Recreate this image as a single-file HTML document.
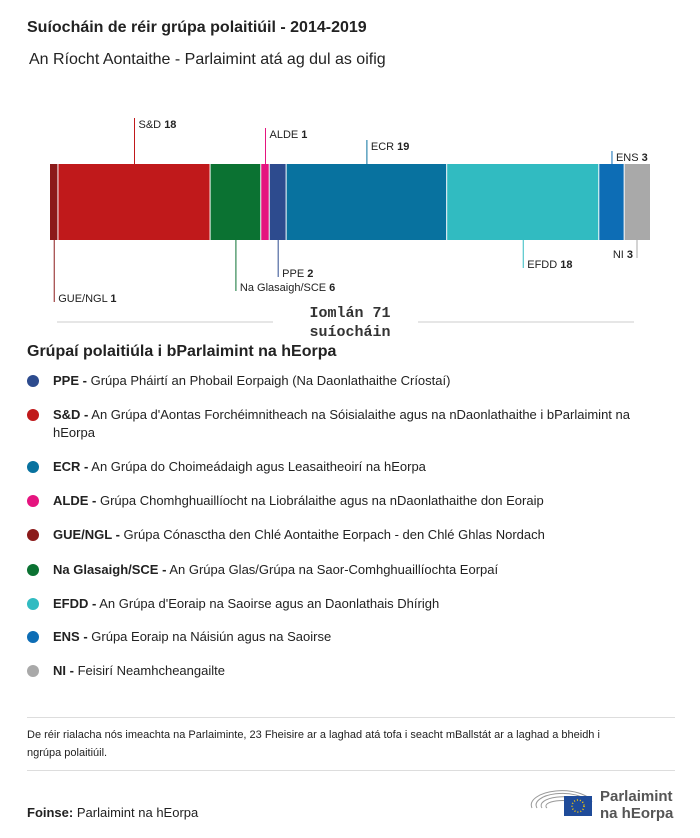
<!DOCTYPE html>
<html><head><meta charset="utf-8"><style>
body{margin:0;width:700px;height:838px;background:#fff;font-family:"Liberation Sans",sans-serif;color:#222;position:relative;overflow:hidden}
.abs{position:absolute}
.leg{position:absolute;left:27px;font-size:13px;line-height:18px;width:640px}
.dot{position:absolute;left:0;top:3px;width:12px;height:12px;border-radius:50%}
.leg span.t{display:block;padding-left:26px}
</style></head><body>
<div class="abs" style="left:27px;top:19px;font-size:16px;font-weight:bold">Suíocháin de réir grúpa polaitiúil - 2014-2019</div>
<div class="abs" style="left:29px;top:51px;font-size:16px">An Ríocht Aontaithe - Parlaimint atá ag dul as oifig</div>
<svg class="abs" style="left:0;top:0" width="700" height="345" id="chart"></svg>
<div class="abs" style="left:27px;top:343px;font-size:16px;font-weight:bold">Grúpaí polaitiúla i bParlaimint na hEorpa</div>
<div id="legend"></div>
<div class="abs" style="left:27px;top:717px;width:648px;height:1px;background:#ddd"></div>
<div class="abs" style="left:27px;top:726px;width:605px;font-size:11px;line-height:18px">De réir rialacha nós imeachta na Parlaiminte, 23 Fheisire ar a laghad atá tofa i seacht mBallstát ar a laghad a bheidh i ngrúpa polaitiúil.</div>
<div class="abs" style="left:27px;top:770px;width:648px;height:1px;background:#ddd"></div>
<div class="abs" style="left:27px;top:805px;font-size:13px"><b>Foinse:</b> Parlaimint na hEorpa</div>
<svg class="abs" style="left:528px;top:782px" width="150" height="40">
<g fill="none" stroke="#999" stroke-width="1"><path d="M4 26 A30 14 0 0 1 64 20"/><path d="M9 26 A25 11 0 0 1 60 20"/><path d="M14 26 A20 8 0 0 1 56 21"/><path d="M19 26 A15 5 0 0 1 50 22"/></g>
<rect x="36" y="14" width="28" height="20" fill="#1f4b99"/><circle cx="50" cy="24" r="6" fill="none" stroke="#fc0" stroke-width="1.5" stroke-dasharray="1 2"/>
<text x="72" y="19" font-size="15" font-weight="bold" fill="#555" font-family="Liberation Sans">Parlaimint</text>
<text x="72" y="36" font-size="15" font-weight="bold" fill="#555" font-family="Liberation Sans">na hEorpa</text></svg>
<script>
const groups=["GUE/NGL","S&D","Na Glasaigh/SCE","ALDE","PPE","ECR","EFDD","ENS","NI"];
const seats=[1,18,6,1,2,19,18,3,3];
const colors=["#8b1a1a","#c0191b","#0b7232","#e5147f","#2d4b8e","#08729f","#31bbc1","#0d6db5","#a9a9a9"];
const side=[-1,1,-1,1,-1,1,-1,1,-1];
const labelY=[298,124,287,134,273,146,264,157,254];
const svg=document.getElementById('chart');const NS="http://www.w3.org/2000/svg";
const total=seats.reduce((a,b)=>a+b,0);
const x0=50,x1=650,yTop=164,yBot=240;
const xs=v=>x0+(x1-x0)*v/total;
let cum=0;
groups.forEach((g,i)=>{
 const a=xs(cum),b=xs(cum+seats[i]);cum+=seats[i];
 const r=document.createElementNS(NS,'rect');
 r.setAttribute('x',a);r.setAttribute('y',yTop);r.setAttribute('width',b-a-(i<groups.length-1?1:0));r.setAttribute('height',yBot-yTop);r.setAttribute('fill',colors[i]);
 
 
 svg.appendChild(r);
 let lx=(a+b)/2; if(i===8) lx=637;
 const l=document.createElementNS(NS,'line');
 const ly=labelY[i];
 l.setAttribute('x1',lx);l.setAttribute('x2',lx);
 if(side[i]>0){l.setAttribute('y1',ly-6);l.setAttribute('y2',yTop);}else{l.setAttribute('y1',yBot);l.setAttribute('y2',ly+4);}
 l.setAttribute('stroke',colors[i]);l.setAttribute('stroke-width',1);
 
 
 svg.appendChild(l);
 const t=document.createElementNS(NS,'text');
 t.setAttribute('font-size',11);t.setAttribute('font-family','Liberation Sans');t.setAttribute('fill','#222');
 if(i===8){t.setAttribute('x',lx-4);t.setAttribute('text-anchor','end');}else t.setAttribute('x',lx+4);
 t.setAttribute('y',ly+4);
 t.innerHTML=g.replace('&','&amp;')+' <tspan font-weight="bold">'+seats[i]+'</tspan>';
 
 
 svg.appendChild(t);
});
[[57,273],[418,634]].forEach(p=>{const l=document.createElementNS(NS,'line');l.setAttribute('x1',p[0]);l.setAttribute('x2',p[1]);l.setAttribute('y1',322);l.setAttribute('y2',322);l.setAttribute('stroke','#ccc');


svg.appendChild(l);});
['Iomlán '+total,'suíocháin'].forEach((s,k)=>{const t=document.createElementNS(NS,'text');t.setAttribute('x',350);t.setAttribute('y',317+k*19);t.setAttribute('text-anchor','middle');t.setAttribute('font-size',15);t.setAttribute('font-weight','bold');t.setAttribute('font-family','Liberation Mono');t.setAttribute('fill','#333');t.textContent=s;


svg.appendChild(t);});
const legItems=[["PPE","Grúpa Pháirtí an Phobail Eorpaigh (Na Daonlathaithe Críostaí)","#2d4b8e",372],
["S&D","An Grúpa d'Aontas Forchéimnitheach na Sóisialaithe agus na nDaonlathaithe i bParlaimint na hEorpa","#c0191b",406],
["ECR","An Grúpa do Choimeádaigh agus Leasaitheoirí na hEorpa","#08729f",458],
["ALDE","Grúpa Chomhghuaillíocht na Liobrálaithe agus na nDaonlathaithe don Eoraip","#e5147f",492],
["GUE/NGL","Grúpa Cónasctha den Chlé Aontaithe Eorpach - den Chlé Ghlas Nordach","#8b1a1a",526],
["Na Glasaigh/SCE","An Grúpa Glas/Grúpa na Saor-Comhghuaillíochta Eorpaí","#0b7232",561],
["EFDD","An Grúpa d'Eoraip na Saoirse agus an Daonlathais Dhírigh","#31bbc1",595],
["ENS","Grúpa Eoraip na Náisiún agus na Saoirse","#0d6db5",628],
["NI","Feisirí Neamhcheangailte","#a9a9a9",662]];
const leg=document.getElementById('legend');
legItems.forEach(it=>{const d=document.createElement('div');d.className='leg';d.style.top=it[3]+'px';
d.innerHTML='<div class="dot" style="background:'+it[2]+'"></div><span class="t"><b>'+it[0].replace('&','&amp;')+' -</b> '+it[1]+'</span>';


leg.appendChild(d);});
</script>
</body></html>
